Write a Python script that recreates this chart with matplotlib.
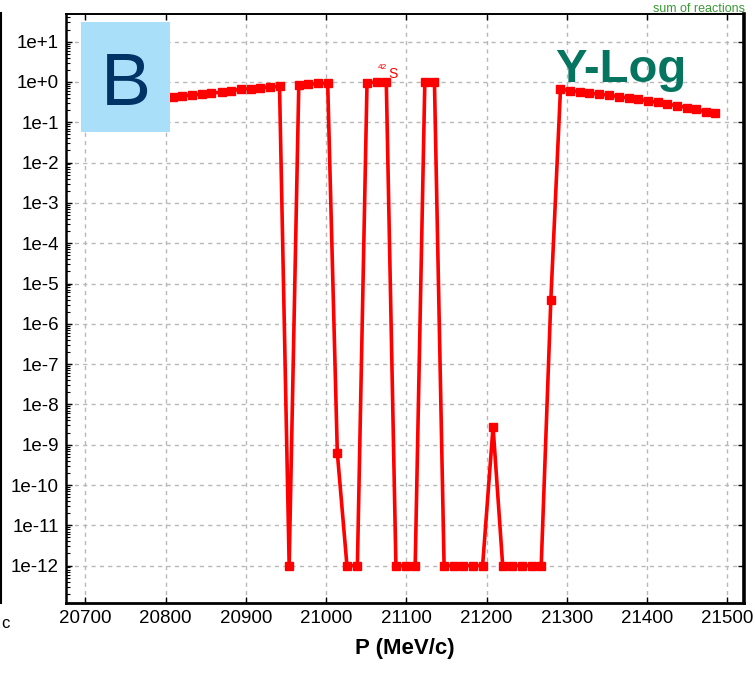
import numpy as np
import matplotlib
matplotlib.use("Agg")
from matplotlib import pyplot as plt
from matplotlib.patches import Rectangle
from matplotlib.lines import Line2D
from matplotlib.ticker import FixedLocator, FixedFormatter, LogLocator, NullFormatter

plt.rcParams['font.family'] = ['Liberation Sans', 'DejaVu Sans']

# --------- DATA ---------

momentum = [20809, 20821, 20833, 20845, 20857, 20870, 20882, 20894, 20906, 20918,
            20930, 20942, 20954, 20966, 20978, 20990, 21002, 21014, 21026, 21039,
            21051, 21063, 21075, 21087, 21099, 21111, 21123, 21135, 21147, 21159,
            21171, 21183, 21195, 21208, 21220, 21232, 21244, 21256, 21268, 21280,
            21292, 21304, 21316, 21328, 21340, 21353, 21365, 21377, 21389, 21401,
            21413, 21425, 21437, 21449, 21461, 21473, 21485]

fraction = [0.42, 0.45, 0.48, 0.50, 0.53, 0.56, 0.61, 0.66, 0.68, 0.72,
            0.75, 0.78, 1e-12, 0.84, 0.88, 0.92, 0.93, 6.3e-10, 1e-12, 1e-12,
            0.97, 0.98, 0.99, 1e-12, 1e-12, 1e-12, 0.98, 0.99, 1e-12, 1e-12,
            1e-12, 1e-12, 1e-12, 2.8e-9, 1e-12, 1e-12, 1e-12, 1e-12, 1e-12, 4.0e-6,
            0.66, 0.61, 0.57, 0.53, 0.50, 0.47, 0.43, 0.40, 0.37, 0.34,
            0.31, 0.28, 0.26, 0.23, 0.21, 0.18, 0.17]

x_ticks = [20700, 20800, 20900, 21000, 21100, 21200, 21300, 21400, 21500]
y_exponents = [1, 0, -1, -2, -3, -4, -5, -6, -7, -8, -9, -10, -11, -12]
y_tick_labels = ["1e+1", "1e+0", "1e-1", "1e-2", "1e-3", "1e-4", "1e-5", "1e-6",
                 "1e-7", "1e-8", "1e-9", "1e-10", "1e-11", "1e-12"]

# -------------------------------------------------

W, H = 755, 679
fig = plt.figure(figsize=(W / 100, H / 100), dpi=100)

# helpers for pixel -> figure fraction
def fx(px):
    return px / W

def fy(py):
    return 1 - py / H

ax = fig.add_axes([fx(66), fy(603.3), fx(743.5) - fx(66), fy(14) - fy(603.3)])

ax.plot(momentum, fraction, '-', color='#ff0000', lw=2.6, marker='s', ms=6,
        mec='#ff0000', mfc='#ff0000', zorder=3)

ax.set_yscale('log')
ax.set_xlim(20676, 21520)
ax.set_ylim(10 ** -12.935, 10 ** 1.687)

# Ticks
ax.xaxis.set_major_locator(FixedLocator(x_ticks))
ax.set_xticklabels([str(t) for t in x_ticks])
ax.yaxis.set_major_locator(FixedLocator([10.0 ** e for e in y_exponents]))
ax.yaxis.set_major_formatter(FixedFormatter(y_tick_labels))
ax.yaxis.set_minor_locator(LogLocator(base=10, subs=np.arange(2, 10), numticks=30))
ax.yaxis.set_minor_formatter(NullFormatter())

ax.tick_params(axis='both', which='major', direction='in', length=4, width=1,
               labelsize=13.5, top=True, right=True, pad=5)
ax.tick_params(axis='y', which='minor', direction='in', length=3, width=0.8,
               left=True, right=False)

ax.grid(True, which='major', linestyle=(0, (3, 3)), color='#b8b8b8', lw=1)

for side, w in (('left', 1.8), ('bottom', 2.0), ('right', 2.6), ('top', 1.4)):
    ax.spines[side].set_linewidth(w)
    ax.spines[side].set_color('black')

ax.set_xlabel("P (MeV/c)", fontsize=16, fontweight='bold', labelpad=8)

# Panel label box "B"
fig.patches.append(Rectangle((fx(81), fy(132)), fx(170) - fx(81), fy(22) - fy(132),
                             transform=fig.transFigure, facecolor='#aadffa',
                             edgecolor='none', zorder=5))
fig.text(fx(126), fy(105), "B", ha='center', va='baseline', fontsize=54,
         color='#003366', zorder=6)

# Scale note
fig.text(fx(555), fy(82), "Y-Log", ha='left', va='baseline', fontsize=34,
         fontweight='bold', color='#067560', zorder=6)

# Isotope label
fig.text(fx(378), fy(69), "42", ha='left', va='baseline', fontsize=6, color='#ff0000')
fig.text(fx(388), fy(78), "S", ha='left', va='baseline', fontsize=10, color='#ff0000')

# Legend text at the top edge
fig.text(fx(653), fy(12), "sum of reactions", ha='left', va='baseline', fontsize=9,
         color='#3a9a35')

# Edge of the neighbouring panel
fig.add_artist(Line2D([fx(1), fx(1)], [fy(13), fy(603)], color='black', lw=1.5,
                      transform=fig.transFigure))
fig.text(fx(1), fy(628), "c", ha='left', va='baseline', fontsize=12, color='black')

fig.savefig("out.png", dpi=100)
